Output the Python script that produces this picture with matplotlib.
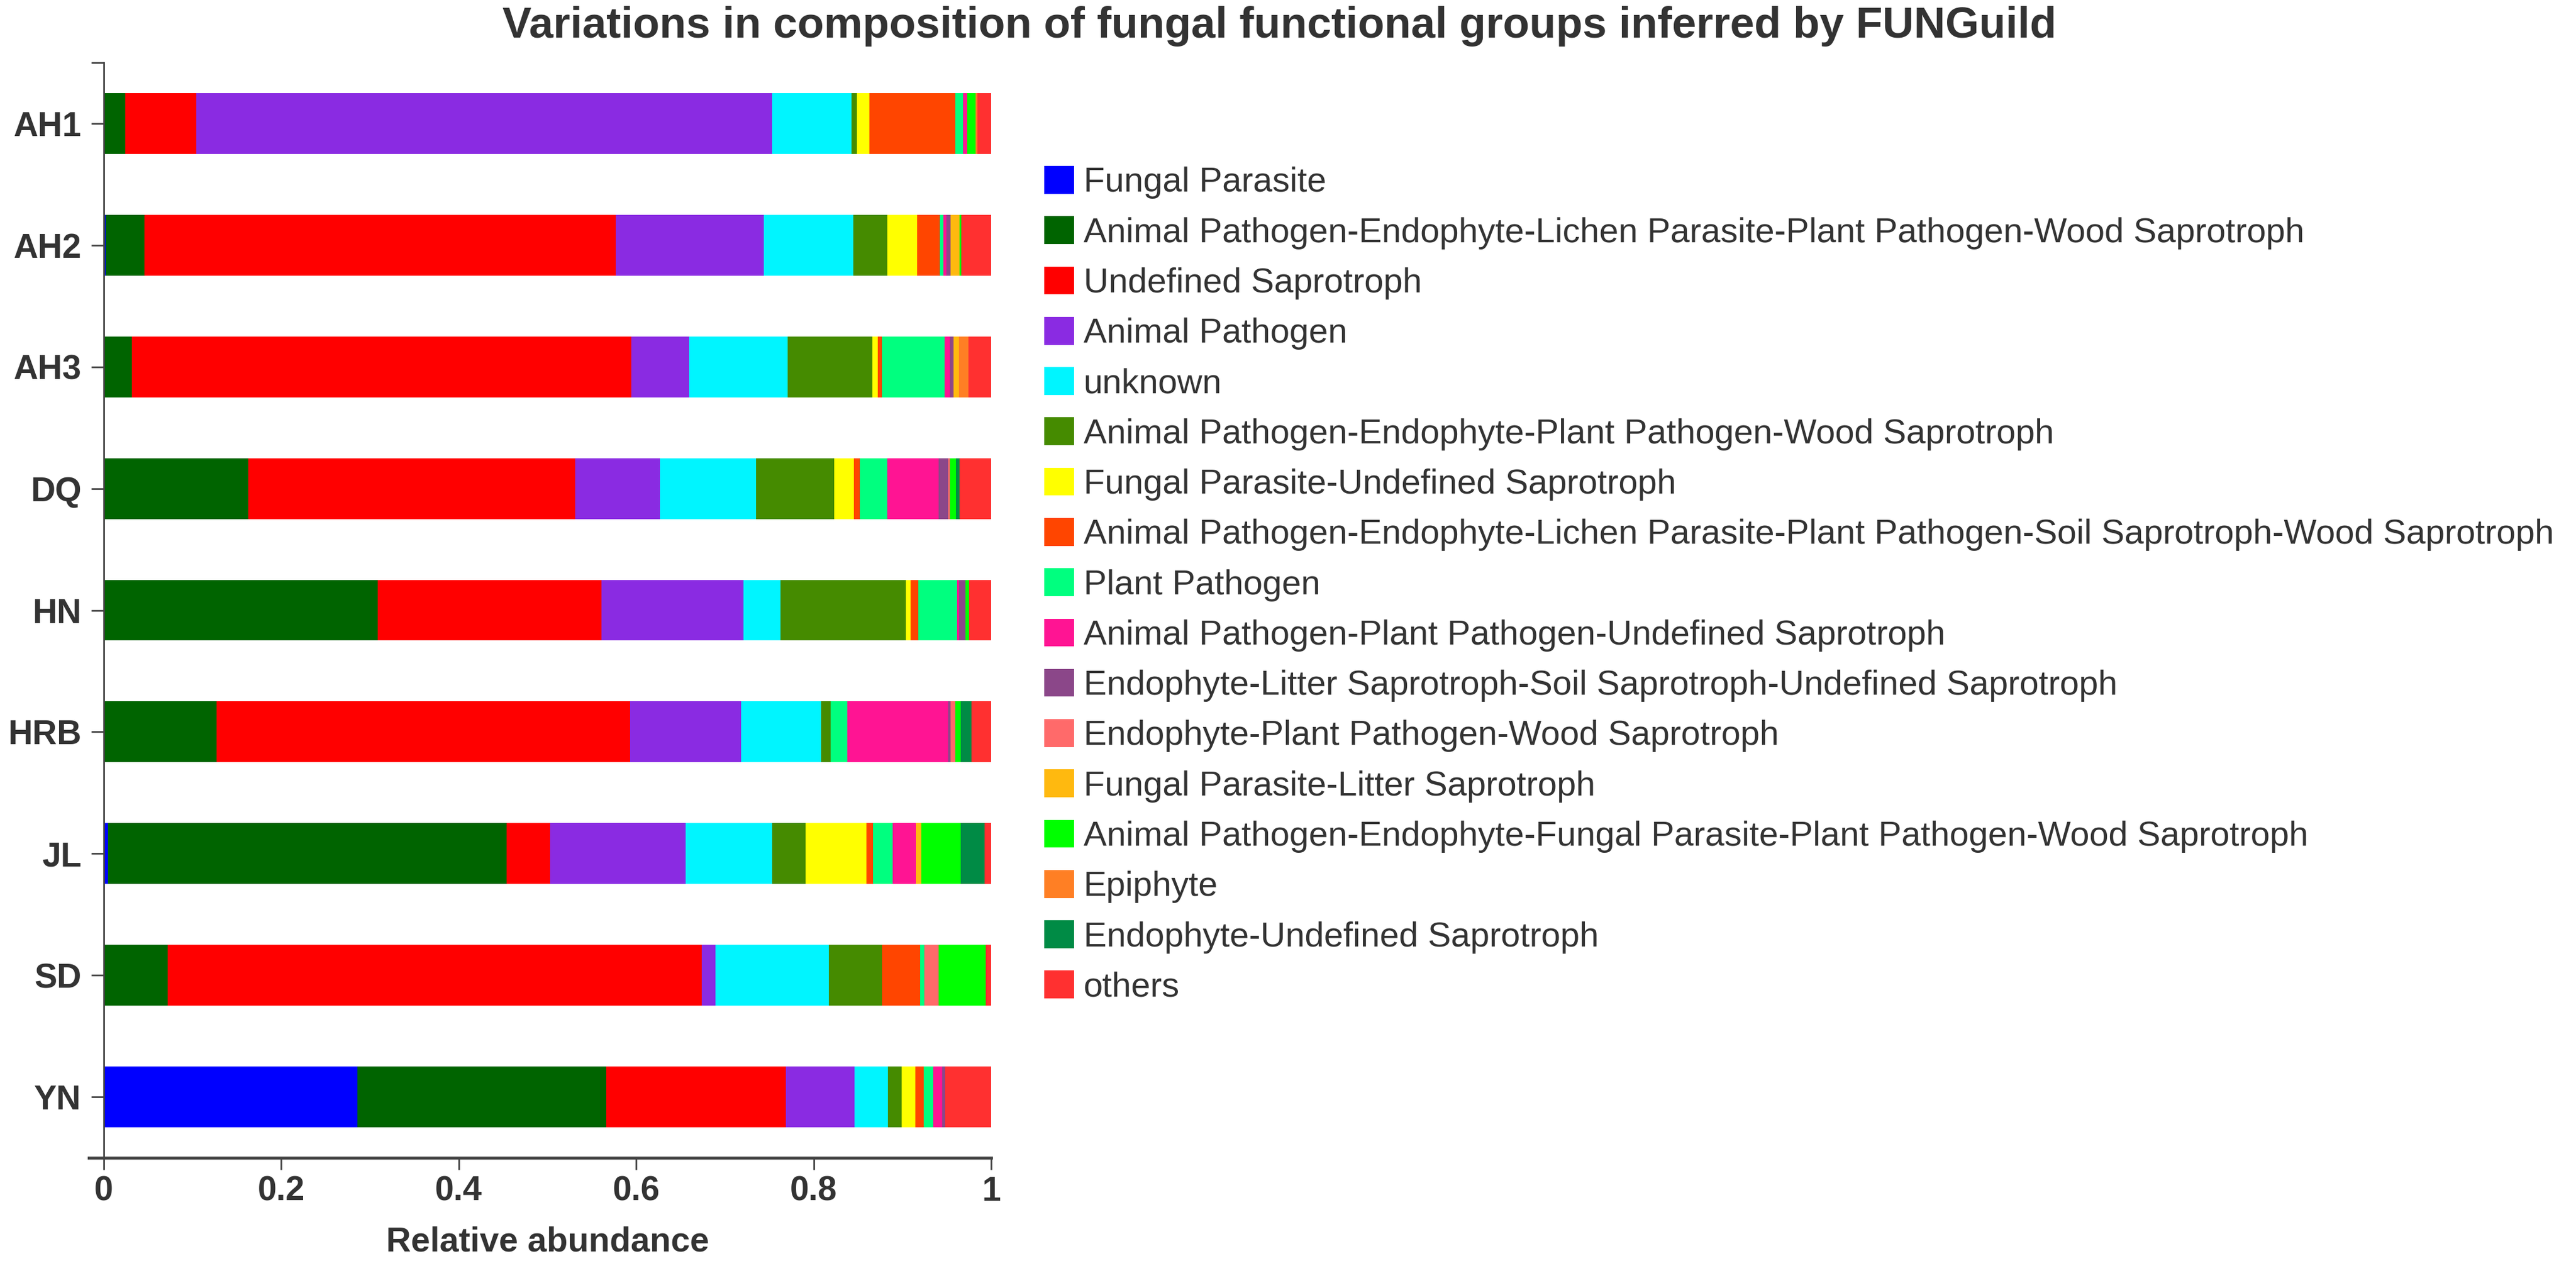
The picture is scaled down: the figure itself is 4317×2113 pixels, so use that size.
import matplotlib
matplotlib.use("Agg")
import matplotlib.pyplot as plt
import numpy as np

plt.rcParams['font.family'] = ['Liberation Sans', 'DejaVu Sans']

samples = ["AH1", "AH2", "AH3", "DQ", "HN", "HRB", "JL", "SD", "YN"]

groups = [
    "Fungal Parasite",
    "Animal Pathogen-Endophyte-Lichen Parasite-Plant Pathogen-Wood Saprotroph",
    "Undefined Saprotroph",
    "Animal Pathogen",
    "unknown",
    "Animal Pathogen-Endophyte-Plant Pathogen-Wood Saprotroph",
    "Fungal Parasite-Undefined Saprotroph",
    "Animal Pathogen-Endophyte-Lichen Parasite-Plant Pathogen-Soil Saprotroph-Wood Saprotroph",
    "Plant Pathogen",
    "Animal Pathogen-Plant Pathogen-Undefined Saprotroph",
    "Endophyte-Litter Saprotroph-Soil Saprotroph-Undefined Saprotroph",
    "Endophyte-Plant Pathogen-Wood Saprotroph",
    "Fungal Parasite-Litter Saprotroph",
    "Animal Pathogen-Endophyte-Fungal Parasite-Plant Pathogen-Wood Saprotroph",
    "Epiphyte",
    "Endophyte-Undefined Saprotroph",
    "others",
]

colors = ["#0000FF", "#006400", "#FF0000", "#8A2BE2", "#00F5FF", "#458B00",
          "#FFFF00", "#FF4500", "#00FF7F", "#FF1493", "#8B4789", "#FF6A6A",
          "#FFB90F", "#00FF00", "#FF7F24", "#008B45", "#FF3030"]

# values per sample, order: AH1, AH2, AH3, DQ, HN, HRB, JL, SD, YN
fungal_parasite = [0.0, 0.002, 0.0, 0.0, 0.0, 0.0, 0.0047, 0.0, 0.2859]
ap_e_lp_pp_ws = [0.0245, 0.0438, 0.0316, 0.1626, 0.3085, 0.1272, 0.4489, 0.072, 0.2804]
undefined_saprotroph = [0.080, 0.531, 0.5628, 0.369, 0.2521, 0.466, 0.0497, 0.6019, 0.2025]
animal_pathogen = [0.649, 0.1673, 0.0651, 0.0949, 0.160, 0.1253, 0.1523, 0.0156, 0.0772]
unknown = [0.0893, 0.1003, 0.1112, 0.1083, 0.0422, 0.0898, 0.0978, 0.1275, 0.0374]
ap_e_pp_ws = [0.0056, 0.0384, 0.0954, 0.088, 0.141, 0.0105, 0.0372, 0.0602, 0.0156]
fp_us = [0.0145, 0.0341, 0.006, 0.0223, 0.0056, 0.0, 0.0686, 0.0, 0.0156]
ap_e_lp_pp_ss_ws = [0.097, 0.025, 0.0051, 0.0067, 0.0083, 0.0, 0.0078, 0.0428, 0.0094]
plant_pathogen = [0.0085, 0.0044, 0.0702, 0.031, 0.0441, 0.0194, 0.0223, 0.0044, 0.0111]
ap_pp_us = [0.0049, 0.003, 0.006, 0.058, 0.002, 0.1132, 0.0263, 0.0, 0.010]
e_ls_ss_us = [0.0, 0.005, 0.0045, 0.0107, 0.0074, 0.0029, 0.0, 0.0, 0.0033]
e_pp_ws = [0.0, 0.0, 0.0, 0.0022, 0.0, 0.0056, 0.0, 0.0167, 0.0]
fp_ls = [0.0, 0.010, 0.0056, 0.0, 0.0, 0.0, 0.006, 0.0, 0.0]
ap_e_fp_pp_ws = [0.0094, 0.002, 0.0, 0.0067, 0.004, 0.0056, 0.0441, 0.053, 0.0]
epiphyte = [0.002, 0.0, 0.0111, 0.0, 0.0, 0.0, 0.0, 0.0, 0.0]
e_us = [0.0, 0.0, 0.0, 0.0038, 0.0, 0.0123, 0.0272, 0.0, 0.0]
others = [0.0153, 0.0337, 0.0254, 0.0358, 0.0248, 0.0222, 0.0071, 0.0059, 0.0516]

series = [fungal_parasite, ap_e_lp_pp_ws, undefined_saprotroph, animal_pathogen,
          unknown, ap_e_pp_ws, fp_us, ap_e_lp_pp_ss_ws, plant_pathogen, ap_pp_us,
          e_ls_ss_us, e_pp_ws, fp_ls, ap_e_fp_pp_ws, epiphyte, e_us, others]

W, H = 4317, 2113
fig = plt.figure(figsize=(W / 100, H / 100), dpi=100)
ax = fig.add_axes([174 / W, 1 - 1940 / H, (1661 - 174) / W, (1940 - 105) / H])

txt = "#333333"
ypos = np.arange(len(samples))
left = np.zeros(len(samples))
handles = []
for name, vals, col in zip(groups, series, colors):
    v = np.array(vals)
    b = ax.barh(ypos, v, left=left, height=0.5, color=col, edgecolor='none', label=name)
    handles.append(b)
    left += v

ax.set_xlim(0, 1)
ax.set_ylim(8.5, -0.5)
ax.set_yticks(ypos)
ax.set_yticklabels(samples)
ax.set_yticks([-0.5], minor=True)
ax.set_xticks([0, 0.2, 0.4, 0.6, 0.8, 1.0])
ax.set_xticklabels(["0", "0.2", "0.4", "0.6", "0.8", "1"])

for lab in ax.get_yticklabels() + ax.get_xticklabels():
    lab.set_fontweight('bold')
    lab.set_color(txt)
ax.tick_params(axis='y', which='both', length=15, width=2, color='#444444',
               labelsize=41, pad=12)
ax.tick_params(axis='x', length=14.5, width=2, color='#444444', labelsize=41, pad=7)

for s in ['top', 'right']:
    ax.spines[s].set_visible(False)
ax.spines['left'].set_linewidth(2.0)
ax.spines['left'].set_color('#444444')
ax.spines['bottom'].set_linewidth(3.6)
ax.spines['bottom'].set_color('#444444')
ax.spines['bottom'].set_bounds(-0.0165, 1.0)

ax.set_xlabel("Relative abundance", fontsize=41.5, fontweight='bold', color=txt, labelpad=22)

fig.text(2144 / W, 1 - 63 / H, "Variations in composition of fungal functional groups inferred by FUNGuild",
         ha='center', va='baseline', fontsize=52.5, fontweight='bold', color=txt)

leg = fig.legend(handles=handles, labels=groups, loc='upper left',
                 bbox_to_anchor=(1750 / W, 1 - 278 / H), frameon=False,
                 fontsize=41.8, handlelength=0.86, handleheight=0.86,
                 handletextpad=0.27, labelspacing=0.497, borderpad=0, borderaxespad=0)
for t in leg.get_texts():
    t.set_color(txt)

fig.savefig("out.png", dpi=100, facecolor='white')
